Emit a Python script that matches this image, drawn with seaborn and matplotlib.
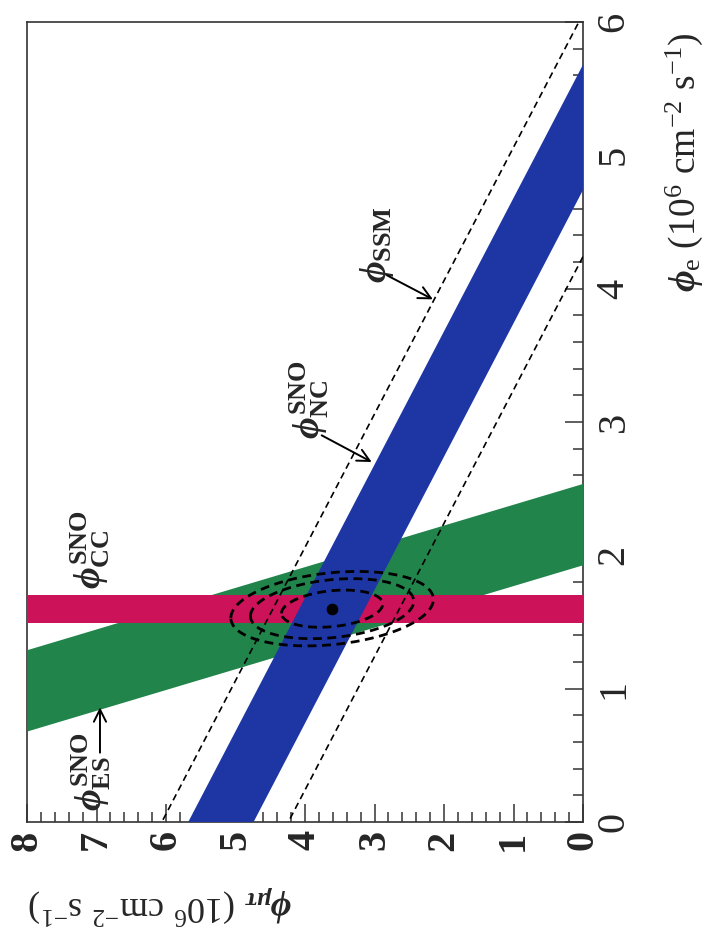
import numpy as np
import pandas as pd
import matplotlib
matplotlib.use("Agg")
import matplotlib.pyplot as plt
from matplotlib.ticker import MultipleLocator
import seaborn as sns

# ---------------- data (fluxes in 10^6 cm^-2 s^-1) ----------------
phi_mt_limits = [8, 0]          # horizontal axis (phi_mu_tau), reversed
phi_e_limits = [0, 6]           # vertical axis (phi_e)
major_ticks_mt = [0, 1, 2, 3, 4, 5, 6, 7, 8]
major_ticks_e = [0, 1, 2, 3, 4, 5, 6]

ssm_flux = 5.05
ssm_err = [0.81, 1.01]          # lower, upper
nc_flux = 5.21
nc_err = [0.47, 0.47]
cc_flux = 1.59
cc_err = [0.10, 0.11]
es_flux = 2.21
es_err = [0.28, 0.33]
es_mt_coef = 0.1559

best_fit_mt = [3.61]
best_fit_e = [1.60]
sigma_mt = 0.48
sigma_e = 0.092
rho = -0.25
contour_levels = [2.30, 5.99, 9.21]   # 68%, 95%, 99% CL

# label positions (phi_mu_tau, phi_e)
lbl_ssm = (2.97, 4.33)
lbl_nc = (3.94, 3.17)
lbl_cc = (7.09, 2.04)
lbl_es = (7.08, 0.38)
arrow_ssm = [(2.82, 4.10), (2.16, 3.92)]
arrow_nc = [(3.76, 2.90), (3.04, 2.70)]
arrow_es = [(6.95, 0.52), (6.95, 0.86)]

# colours
c_blue = "#1d36a4"
c_green = "#21844a"
c_magenta = "#cc1258"

# ---------------- style ----------------
sns.set_style("ticks")
plt.rcParams["font.family"] = ["Liberation Serif", "DejaVu Serif"]
plt.rcParams["mathtext.fontset"] = "custom"
plt.rcParams["mathtext.rm"] = "Liberation Serif"
plt.rcParams["mathtext.it"] = "Liberation Serif:italic:bold"
plt.rcParams["mathtext.bf"] = "Liberation Serif:bold"

fig = plt.figure(figsize=(7.15, 9.44), dpi=100)
ax = fig.add_axes([27 / 715, 1 - 822 / 944, (583 - 27) / 715, (822 - 22) / 944])

x = np.linspace(0, 8, 200)
grid = pd.DataFrame({"mt": x})

# ES band (green)
ax.fill_between(x, es_flux - es_err[0] - es_mt_coef * x,
                es_flux + es_err[1] - es_mt_coef * x,
                color=c_green, lw=0, zorder=3)
# CC band (magenta)
ax.axhspan(cc_flux - cc_err[0], cc_flux + cc_err[1], color=c_magenta, lw=0, zorder=3.1)
# NC band (blue)
ax.fill_between(x, nc_flux - nc_err[0] - x, nc_flux + nc_err[1] - x,
                color=c_blue, lw=0, zorder=3.2)

# SSM dashed lines
for k, val in enumerate([ssm_flux - ssm_err[0], ssm_flux + ssm_err[1]]):
    d = grid.assign(e=val - grid["mt"])
    sns.lineplot(data=d, x="mt", y="e", ax=ax, color="black", lw=1.2,
                 dashes=False, zorder=4, legend=False)
    ax.lines[-1].set_dashes((4, 2.6))

# contour ellipses
t = np.linspace(0, 2 * np.pi, 300)
cov = np.array([[sigma_mt ** 2, rho * sigma_mt * sigma_e],
                [rho * sigma_mt * sigma_e, sigma_e ** 2]])
L = np.linalg.cholesky(cov)
for lev in contour_levels:
    pts = L @ np.vstack([np.cos(t), np.sin(t)]) * np.sqrt(lev)
    ax.plot(best_fit_mt[0] + pts[0], best_fit_e[0] + pts[1], color="black",
            lw=2.0, dashes=(3.2, 2.0), zorder=5)

sns.scatterplot(x=best_fit_mt, y=best_fit_e, ax=ax, color="black", s=60,
                zorder=6, edgecolor="black", legend=False)

# annotations
ann_kw = dict(rotation=90, rotation_mode="default", ha="center", va="center",
              fontsize=27, zorder=7)
ax.text(*lbl_ssm, r"$\phi_{\mathbf{SSM}}$", **ann_kw)
ax.text(*lbl_nc, r"$\phi^{\mathbf{SNO}}_{\mathbf{NC}}$", **ann_kw)
ax.text(*lbl_cc, r"$\phi^{\mathbf{SNO}}_{\mathbf{CC}}$", **ann_kw)
ax.text(*lbl_es, r"$\phi^{\mathbf{SNO}}_{\mathbf{ES}}$", **ann_kw)
for a in (arrow_ssm, arrow_nc, arrow_es):
    ax.annotate("", xy=a[1], xytext=a[0],
                arrowprops=dict(arrowstyle="->", color="black", lw=1.4,
                                mutation_scale=22, shrinkA=0, shrinkB=0),
                zorder=7)

# axes
ax.set_xlim(*phi_mt_limits)
ax.set_ylim(*phi_e_limits)
ax.set_xlabel("")
ax.set_ylabel("")
ax.yaxis.tick_right()
ax.set_xticks(major_ticks_mt)
ax.set_yticks(major_ticks_e)
ax.xaxis.set_minor_locator(MultipleLocator(0.2))
ax.yaxis.set_minor_locator(MultipleLocator(0.2))
ax.tick_params(which="both", direction="in", bottom=True, top=False,
               left=False, right=True, width=1.1, color="#333333")
ax.tick_params(which="major", length=13)
ax.tick_params(which="minor", length=7)
ax.tick_params(axis="x", labelsize=29, labelrotation=90, pad=6)
ax.tick_params(axis="y", labelsize=29, labelrotation=90, pad=9)
for lab in ax.get_xticklabels():
    lab.set_fontweight("bold")
for lab in ax.get_yticklabels():
    lab.set_va("center")
for s in ax.spines.values():
    s.set_linewidth(1.2)
    s.set_color("#333333")
    s.set_zorder(2.5)

fig.text(684 / 715, 1 - 292 / 944,
         r"$\phi_{\mathrm{e}}\ (10^{6}\ \mathrm{cm}^{-2}\ \mathrm{s}^{-1})$",
         rotation=90, ha="center", va="bottom", fontsize=27)
fig.text(292 / 715, 1 - 905 / 944,
         r"$\phi_{\mu\tau}\ (10^{6}\ \mathrm{cm}^{-2}\ \mathrm{s}^{-1})$",
         rotation=180, ha="right", va="center", fontsize=26)

fig.savefig("out.png", dpi=100)
